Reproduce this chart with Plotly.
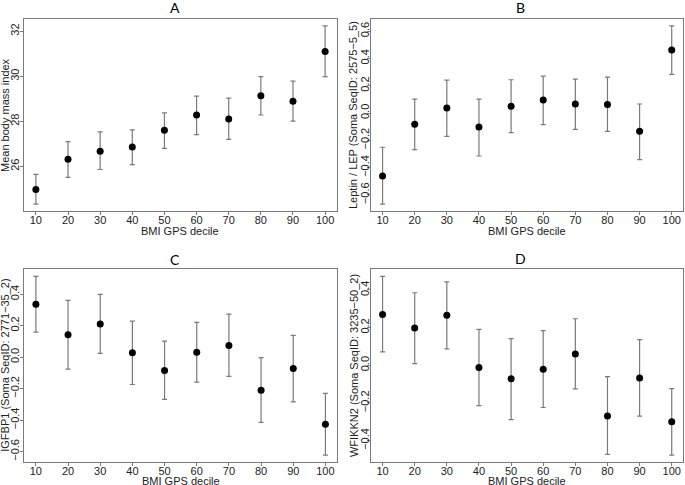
import plotly.graph_objects as go

deciles = [10, 20, 30, 40, 50, 60, 70, 80, 90, 100]

# Panel A: Mean body mass index
a_mean = [24.97, 26.32, 26.67, 26.86, 27.60, 28.28, 28.10, 29.14, 28.89, 31.10]
a_upper = [25.64, 27.10, 27.53, 27.62, 28.37, 29.12, 29.03, 29.98, 29.78, 32.24]
a_lower = [24.32, 25.51, 25.86, 26.08, 26.80, 27.41, 27.20, 28.28, 28.01, 29.98]

# Panel B: Leptin / LEP
b_mean = [-0.461, -0.083, 0.037, -0.102, 0.049, 0.095, 0.066, 0.063, -0.134, 0.461]
b_upper = [-0.251, 0.102, 0.241, 0.102, 0.244, 0.271, 0.249, 0.263, 0.066, 0.639]
b_lower = [-0.668, -0.268, -0.171, -0.315, -0.144, -0.085, -0.120, -0.134, -0.341, 0.283]

# Panel C: IGFBP1
c_mean = [0.335, 0.142, 0.210, 0.028, -0.085, 0.030, 0.074, -0.210, -0.072, -0.426]
c_upper = [0.513, 0.360, 0.398, 0.229, 0.102, 0.220, 0.273, -0.004, 0.138, -0.231]
c_lower = [0.159, -0.076, 0.023, -0.174, -0.269, -0.159, -0.123, -0.415, -0.284, -0.623]

# Panel D: WFIKKN2
d_mean = [0.270, 0.198, 0.265, -0.012, -0.072, -0.021, 0.060, -0.269, -0.067, -0.300]
d_upper = [0.472, 0.385, 0.443, 0.191, 0.141, 0.184, 0.247, -0.060, 0.136, -0.124]
d_lower = [0.071, 0.009, 0.087, -0.214, -0.288, -0.224, -0.125, -0.473, -0.270, -0.477]

panel_titles = ["A", "B", "C", "D"]
y_titles = [
    "Mean body mass index",
    "Leptin / LEP (Soma SeqID: 2575\u22125_5)",
    "IGFBP1 (Soma SeqID: 2771\u221235_2)",
    "WFIKKN2 (Soma SeqID: 3235\u221250_2)",
]
x_title = "BMI GPS decile"
y_ticks = [
    [24, 26, 28, 30, 32],
    [-0.6, -0.4, -0.2, 0.0, 0.2, 0.4, 0.6],
    [-0.6, -0.4, -0.2, 0.0, 0.2, 0.4],
    [-0.4, -0.2, 0.0, 0.2, 0.4],
]
y_ticktext = [
    ["24", "26", "28", "30", "32"],
    ["\u22120.6", "\u22120.4", "\u22120.2", "0.0", "0.2", "0.4", "0.6"],
    ["\u22120.6", "\u22120.4", "\u22120.2", "0.0", "0.2", "0.4"],
    ["\u22120.4", "\u22120.2", "0.0", "0.2", "0.4"],
]

W, H = 685, 485
# pixel boxes: (left, right, top, bottom)
boxes = [
    (24.3, 336.7, 18.7, 211.3),
    (371.0, 683.3, 18.7, 211.3),
    (24.3, 337.0, 269.2, 462.3),
    (371.0, 683.3, 269.2, 462.3),
]
title_pos = [(175, 7.5), (520, 7.5), (175, 259), (520, 258)]
ytitle_x = [5.0, 353, 5.0, 353.3]
xtitle_y = [231, 231, 481, 481]
ylabel_standoff = [-3, -6, -3, -6]

data = [
    (a_mean, a_upper, a_lower),
    (b_mean, b_upper, b_lower),
    (c_mean, c_upper, c_lower),
    (d_mean, d_upper, d_lower),
]

fig = go.Figure()
grey = "#7a7a7a"
textfont = dict(family="Liberation Sans, Arial", size=11, color="#222")

for i, (m, up, lo) in enumerate(data):
    n = i + 1
    xa = "x" if n == 1 else f"x{n}"
    ya = "y" if n == 1 else f"y{n}"
    fig.add_trace(go.Scatter(
        x=deciles, y=m, mode="markers", xaxis=xa, yaxis=ya,
        marker=dict(color="black", size=7),
        error_y=dict(type="data", symmetric=False,
                     array=[u - v for u, v in zip(up, m)],
                     arrayminus=[v - l for v, l in zip(m, lo)],
                     color=grey, thickness=1.2, width=2.5),
        showlegend=False, cliponaxis=False,
    ))
    l, r, t, b = boxes[i]
    lo_all = min(lo)
    hi_all = max(up)
    ext = (hi_all - lo_all) * 0.04
    xkey = "xaxis" if n == 1 else f"xaxis{n}"
    ykey = "yaxis" if n == 1 else f"yaxis{n}"
    fig.update_layout(**{
        xkey: dict(domain=[l / W, r / W], anchor=ya, range=[6.4, 103.6],
                   automargin=False,
                   tickvals=deciles, ticks="outside", ticklen=3, tickcolor=grey,
                   showline=True, linecolor=grey, linewidth=1, mirror=True,
                   showgrid=False, zeroline=False, tickfont=textfont,
                   ticklabelstandoff=-5),
        ykey: dict(domain=[1 - b / H, 1 - t / H], anchor=xa,
                   range=[lo_all - ext, hi_all + ext],
                   automargin=False,
                   tickvals=y_ticks[i], ticktext=y_ticktext[i], tickangle=-90,
                   ticks="outside", ticklen=3, tickcolor=grey,
                   showline=True, linecolor=grey, linewidth=1, mirror=True,
                   showgrid=False, zeroline=False, tickfont=textfont,
                   ticklabelstandoff=ylabel_standoff[i]),
    })
    tx, ty = title_pos[i]
    fig.add_annotation(text=panel_titles[i], x=tx / W, y=1 - ty / H, xref="paper", yref="paper",
                       showarrow=False, xanchor="center", yanchor="middle",
                       font=dict(family="Lato, Open Sans", size=14, color="black"))
    # axis titles
    fig.add_annotation(text=y_titles[i], x=ytitle_x[i] / W, y=1 - (t + b) / 2 / H,
                       xref="paper", yref="paper", showarrow=False, textangle=-90,
                       xanchor="center", yanchor="middle", font=textfont, borderpad=0)
    fig.add_annotation(text=x_title, x=(l + r) / 2 / W, y=1 - xtitle_y[i] / H,
                       xref="paper", yref="paper", showarrow=False,
                       xanchor="center", yanchor="middle", font=textfont, borderpad=0)

fig.update_layout(width=W, height=H, margin=dict(l=0, r=0, t=0, b=0),
                  plot_bgcolor="white", paper_bgcolor="white")
fig.write_html("out.html", config={"displayModeBar": False},
               post_script="document.body.style.margin='0';document.body.style.overflow='hidden';")
